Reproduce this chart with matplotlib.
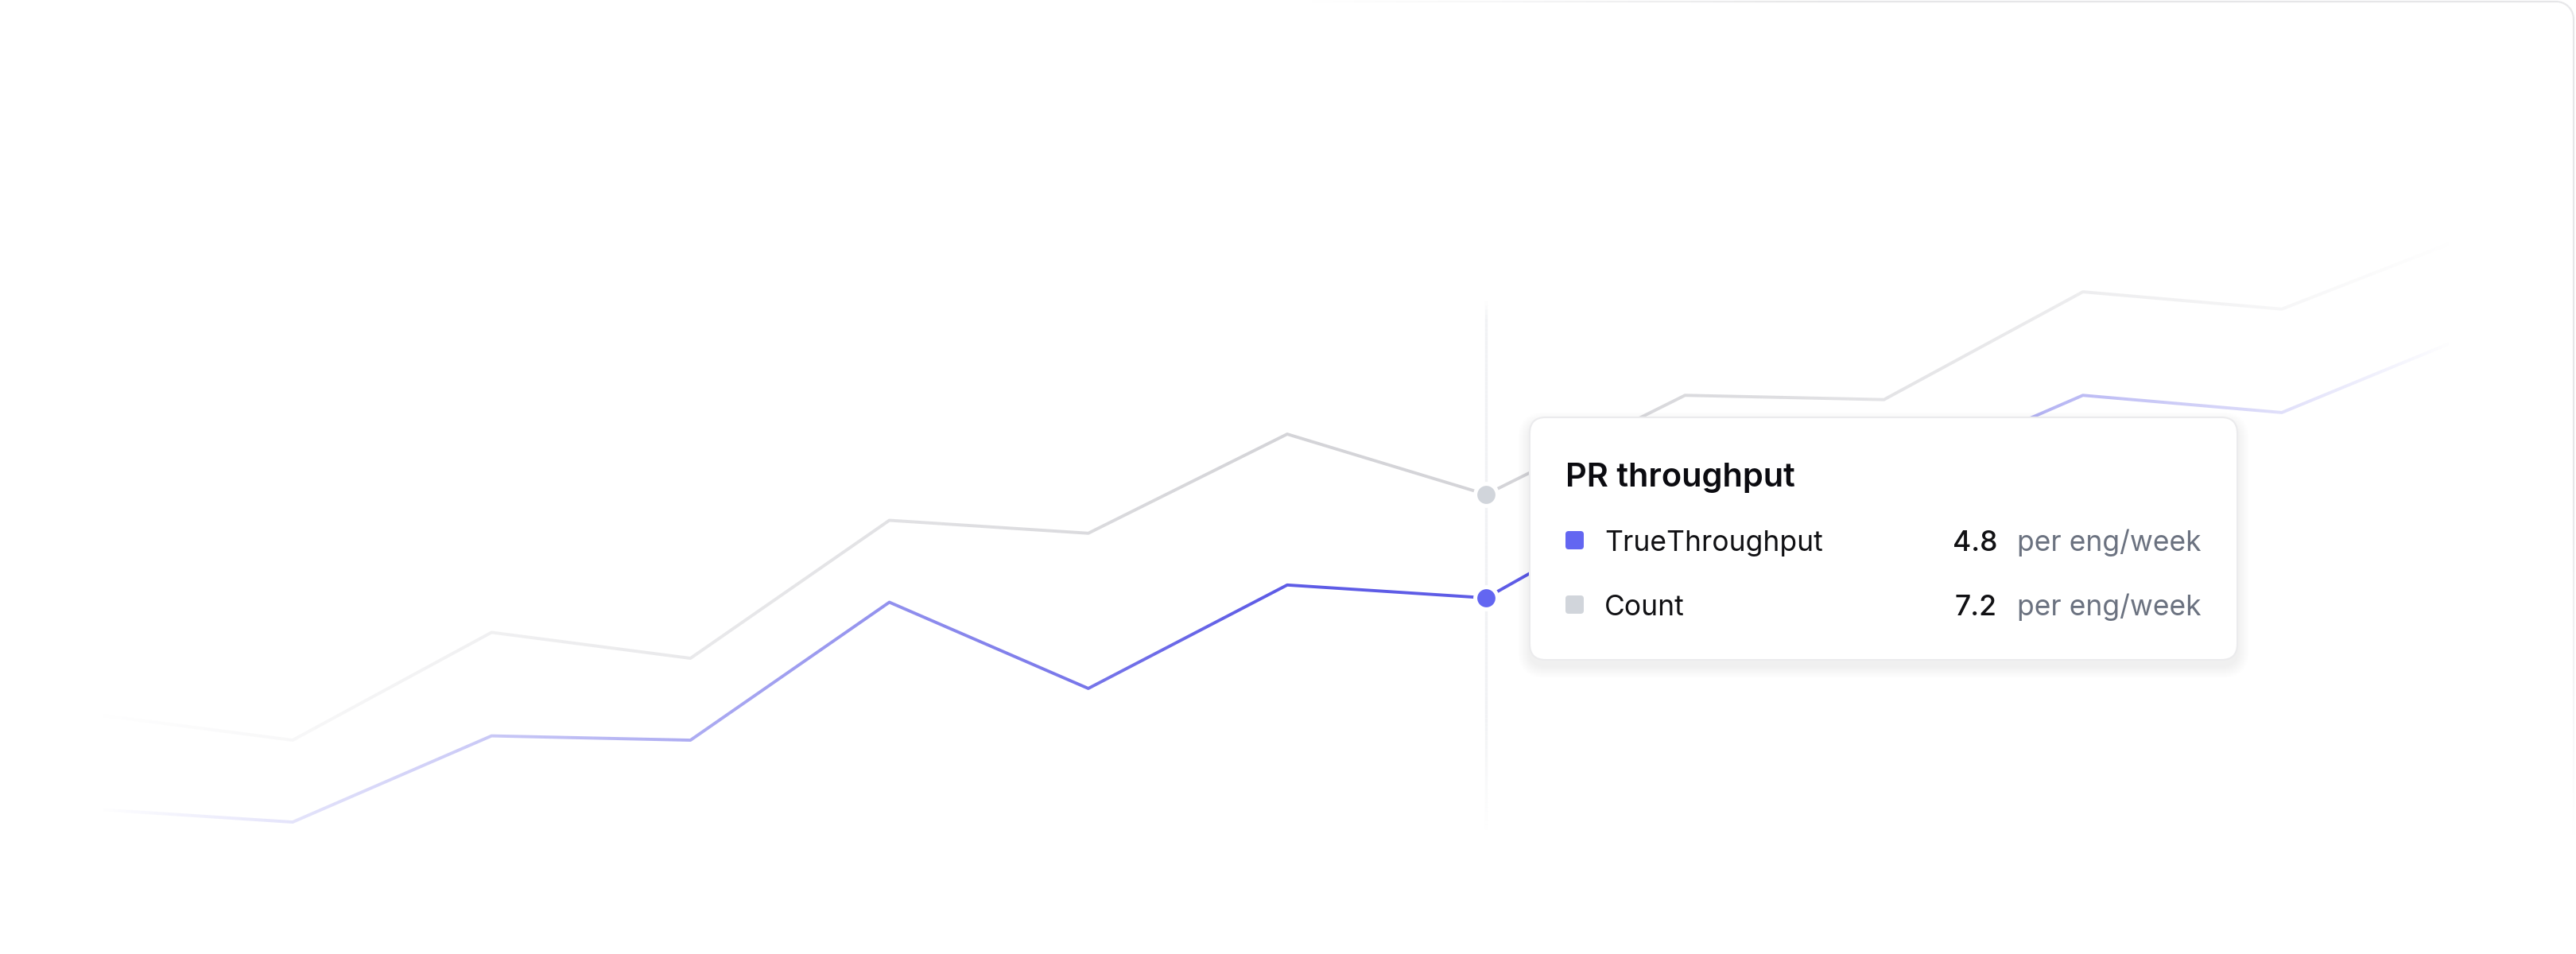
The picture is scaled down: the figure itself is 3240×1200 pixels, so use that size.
import numpy as np
import matplotlib.pyplot as plt
from matplotlib.patches import FancyBboxPatch
from matplotlib.collections import LineCollection
from matplotlib.colors import to_rgba

plt.rcParams['font.family'] = ['Inter', 'DejaVu Sans']

# weekly values (per eng/week)
weeks = list(range(13))
true_throughput = [-0.1, -0.4, 1.6, 1.5, 4.7, 2.7, 5.1, 4.8, 7.4, 7.5, 9.5, 9.1, 11.0]
count = [2.1, 1.5, 4.0, 3.4, 6.6, 6.3, 8.6, 7.2, 9.5, 9.4, 11.9, 11.5, 13.3]
hover = 7

tooltip_title = 'PR throughput'
series_names = ['TrueThroughput', 'Count']
series_values = [true_throughput[hover], count[hover]]
unit = 'per eng/week'

purple = '#5e5ce6'
purple_dot = '#6366f1'
gray = '#d4d4d8'
gray_dot = '#d1d5db'

W, H = 3240, 1200
fig = plt.figure(figsize=(W / 100, H / 100), dpi=100)
fig.patch.set_facecolor('white')

# chart
ax = fig.add_axes([0, 0, 1, 1])
xlim = (-0.471, 12.479)
ylim = (-3.46, 18.67)
ax.axis('off')

ax.plot(weeks, count, color=gray, lw=2.8, solid_joinstyle='round', zorder=2)
ax.plot(weeks, true_throughput, color=purple, lw=2.8, solid_joinstyle='round', zorder=2.1)

# horizontal fade of the lines towards both sides
px = np.arange(W)
fade = np.interp(px, [130, 1600, 1950, 3080], [0, 1, 1, 0])
img = np.ones((1, W, 4))
img[..., 3] = 1 - fade
ax.imshow(img, extent=[xlim[0], xlim[1], ylim[0], ylim[1]], aspect='auto',
          interpolation='bilinear', zorder=3)

# hover crosshair, faded at both ends
ys = np.linspace(0.131, 0.685, 120)
segs = [[(hover, ys[i]), (hover, ys[i + 1])] for i in range(len(ys) - 1)]
mid = (ys[:-1] + ys[1:]) / 2
a = np.minimum(np.interp(mid, [0.131, 0.25], [0, 1]), np.interp(mid, [0.665, 0.685], [1, 0]))
cols = [to_rgba('#f1f2f4', v) for v in a]
ax.add_collection(LineCollection(segs, colors=cols, linewidths=2.4,
                                 transform=ax.get_xaxis_transform(), zorder=1))

ax.plot(hover, count[hover], 'o', ms=20, mfc=gray_dot, mec='white', mew=3.6, zorder=5)
ax.plot(hover, true_throughput[hover], 'o', ms=20, mfc=purple_dot, mec='white', mew=3.6, zorder=5)

ax.set_xlim(*xlim)
ax.set_ylim(*ylim)

# overlay in pixel coordinates for card border and tooltip
ov = fig.add_axes([0, 0, 1, 1])
ov.set_xlim(0, W)
ov.set_ylim(H, 0)
ov.axis('off')

# faint card border at top/right
t = np.linspace(0, np.pi / 2, 20)
bx = np.concatenate([np.linspace(1650, 3215, 60), 3215 + 22 * np.sin(t), np.full(60, 3237)])
by = np.concatenate([np.full(60, 2), 24 - 22 * np.cos(t), np.linspace(24, 1050, 60)])
bsegs = [[(bx[i], by[i]), (bx[i + 1], by[i + 1])] for i in range(len(bx) - 1)]
bmx = (bx[:-1] + bx[1:]) / 2
bmy = (by[:-1] + by[1:]) / 2
ba = np.minimum(np.interp(bmx, [1650, 2300], [0, 1]), np.interp(bmy, [600, 1050], [1, 0]))
ov.add_collection(LineCollection(bsegs, colors=[to_rgba('#e6e6e8', v) for v in ba],
                                 linewidths=1.6, zorder=1))

# tooltip
tx, ty, tw, th = 1924, 525, 890, 305
for s in range(1, 16):
    ov.add_patch(FancyBboxPatch((tx - s, ty + 8 - s), tw + 2 * s, th + 2 * s,
                                boxstyle=f'round,pad=0,rounding_size={20 + s}',
                                fc='black', ec='none', alpha=0.005, zorder=5))
ov.add_patch(FancyBboxPatch((tx, ty), tw, th, boxstyle='round,pad=0,rounding_size=20',
                            fc='white', ec='#ebebed', lw=1.5, zorder=6))

ov.text(1969, 612, tooltip_title, fontsize=30, fontweight='semibold', color='#0b0b10',
        ha='left', va='baseline', zorder=7)

row_base = [693, 774]
swatches = [purple_dot, gray_dot]
for name, val, base, sw in zip(series_names, series_values, row_base, swatches):
    ov.add_patch(FancyBboxPatch((1969, base - 25), 23, 23, boxstyle='round,pad=0,rounding_size=4',
                                fc=sw, ec='none', zorder=7))
    ov.text(2018, base, name, fontsize=25.5, color='#111114', ha='left', va='baseline', zorder=7)
    ov.text(2512, base, f'{val:.1f}', fontsize=25.5, fontweight='medium', color='#111114',
            ha='right', va='baseline', zorder=7)
    ov.text(2537, base, unit, fontsize=25.5, color='#6b7280', ha='left', va='baseline', zorder=7)

fig.savefig('out.png', dpi=100, facecolor='white')
